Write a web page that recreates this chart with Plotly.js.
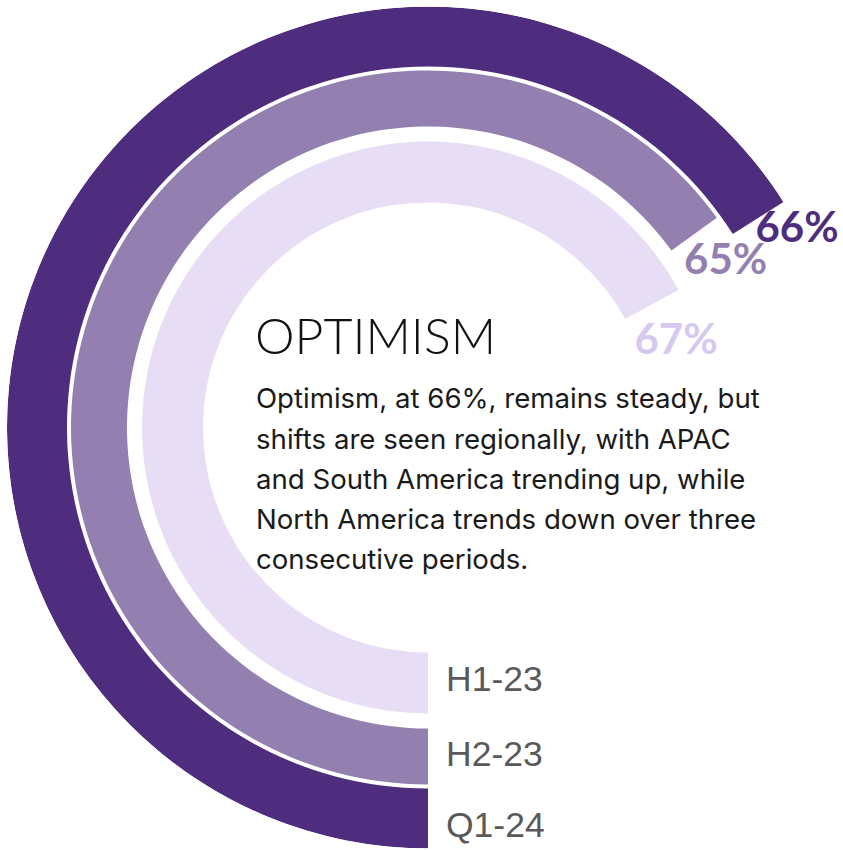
<!DOCTYPE html>
<html><head><meta charset="utf-8">
<script src="https://cdn.plot.ly/plotly-3.0.1.min.js"></script>
<style>html,body{margin:0;padding:0;overflow:hidden;background:#fff}#chart{width:860px;height:850px}</style>
</head><body><div id="chart"></div>
<script>
// ---- data ----
const categories = ['H1-23', 'H2-23', 'Q1-24'];
const values = [67, 65, 66];
const valueLabels = ['67%', '65%', '66%'];
const titleText = 'OPTIMISM';
const bodyLines = [
  'Optimism, at 66%, remains steady, but',
  'shifts are seen regionally, with APAC',
  'and South America trending up, while',
  'North America trends down over three',
  'consecutive periods.'
];

// ---- geometry / style ----
const W = 860, H = 850, CX = 428, CY = 427.5, R = 421;
const bandBase = [225, 301, 361];
const bandWidth = [61, 56, 60];
const barColors = ['#E7DEF5', '#9480B0', '#4F2D7E'];
const pctColors = ['#D6C8F0', '#9480B0', '#4F2D7E'];
const pctDTheta = [10, 7.1, 4.4];
const pctR = [262, 340, 418];
const catR = [255, 330, 401];
const catShift = 18;

const deg = v => v * 3.6;

const bars = {
  type: 'barpolar',
  r: bandWidth,
  base: bandBase,
  theta: values.map(v => deg(v) / 2),
  width: values.map(v => deg(v)),
  marker: {color: barColors, line: {width: 0}},
  hoverinfo: 'skip',
  showlegend: false
};

const pct = {
  type: 'scatterpolar',
  mode: 'text',
  r: pctR,
  theta: values.map((v, i) => deg(v) + pctDTheta[i]),
  text: valueLabels,
  textposition: 'middle center',
  textfont: {family: 'Lato', size: 42, weight: 700, color: pctColors},
  hoverinfo: 'skip',
  showlegend: false,
  cliponaxis: false
};

const cats = {
  type: 'scatterpolar',
  mode: 'text',
  r: catR,
  theta: catR.map(r => -Math.asin(catShift / r) * 180 / Math.PI),
  text: categories,
  textposition: 'middle right',
  textfont: {family: 'Liberation Sans, Arial, sans-serif', size: 35.5, color: '#595959'},
  hoverinfo: 'skip',
  showlegend: false,
  cliponaxis: false
};

const px = x => x / W;
const py = y => 1 - y / H;

const annotations = [{
  text: titleText, xref: 'paper', yref: 'paper', x: px(253), y: py(335),
  xanchor: 'left', yanchor: 'middle', showarrow: false,
  font: {family: 'Lato', size: 50, weight: 300, color: '#111111'}
}];
const lineCenters = [398.5, 438.5, 478.5, 518.5, 558.5];
bodyLines.forEach((t, i) => annotations.push({
  text: t, xref: 'paper', yref: 'paper', x: px(254), y: py(lineCenters[i]),
  xanchor: 'left', yanchor: 'middle', showarrow: false,
  font: {family: 'Inter', size: 27.6, color: '#1a1a1a'}
}));

const layout = {
  width: W, height: H, autosize: false,
  margin: {l: 0, r: 0, t: 0, b: 0, pad: 0},
  paper_bgcolor: '#ffffff', plot_bgcolor: '#ffffff',
  showlegend: false,
  polar: {
    domain: {x: [(CX - R) / W, (CX + R) / W], y: [(H - CY - R) / H, (H - CY + R) / H]},
    bgcolor: 'rgba(0,0,0,0)',
    radialaxis: {range: [0, R], visible: false, showgrid: false, showline: false, showticklabels: false, ticks: ''},
    angularaxis: {direction: 'clockwise', rotation: 270, visible: false, showgrid: false, showline: false, showticklabels: false, ticks: ''}
  },
  annotations: annotations
};

Plotly.newPlot('chart', [bars, pct, cats], layout, {displayModeBar: false, staticPlot: true});
</script>
</body></html>
